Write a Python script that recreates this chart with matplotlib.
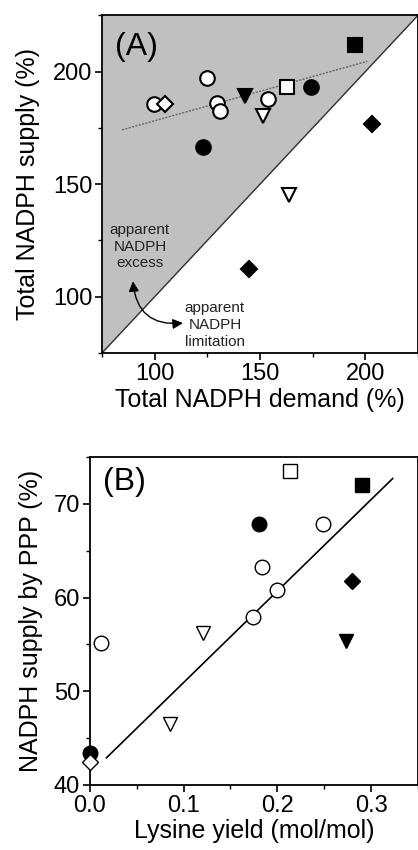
import matplotlib
matplotlib.use("Agg")
import matplotlib.pyplot as plt
from matplotlib.ticker import MultipleLocator, FormatStrFormatter

plt.rcParams['font.family'] = ['Liberation Sans', 'DejaVu Sans']

# ---------------- Panel A data ----------------
a_demand = [99.6, 104.9, 124.8, 129.5, 131.0, 122.9, 142.8, 151.3, 153.7, 162.7, 174.0, 195.0, 203.0, 164.0, 145.0]
a_supply = [185.6, 185.6, 197.0, 186.0, 182.5, 166.6, 189.0, 180.3, 187.8, 193.0, 193.0, 212.0, 176.8, 145.0, 112.2]
a_marker = ['o', 'D', 'o', 'o', 'o', 'o', 'v', 'v', 'o', 's', 'o', 's', 'D', 'v', 'D']
a_filled = [False, False, False, False, False, True, True, False, False, False, True, True, True, False, True]
a_trend_x = [84.5, 201.0]
a_trend_y = [174.1, 204.6]

# ---------------- Panel B data ----------------
b_yield = [0.213, 0.290, 0.180, 0.249, 0.184, 0.280, 0.200, 0.174, 0.121, 0.0124, 0.273, 0.085, 0.0, 0.0]
b_ppp = [73.5, 72.0, 67.8, 67.9, 63.3, 61.8, 60.8, 57.9, 56.2, 55.2, 55.4, 46.5, 43.4, 42.4]
b_marker = ['s', 's', 'o', 'o', 'o', 'D', 'o', 'o', 'v', 'o', 'v', 'v', 'o', 'D']
b_filled = [False, True, True, False, False, True, False, False, False, False, True, False, True, False]
b_fit_x = [0.0177, 0.323]
b_fit_y = [42.9, 72.7]

fig = plt.figure(figsize=(4.18, 8.5), dpi=100)
axA = fig.add_axes([0.244, 0.5847, 0.756, 0.3973])
axB = fig.add_axes([0.215, 0.0765, 0.785, 0.3859])

def msize(m):
    return {'o': 10.5, 'D': 8.5, 's': 9.5, 'v': 10}[m]

def style(ax):
    for s in ax.spines.values():
        s.set_linewidth(1.3)
    ax.tick_params(which='major', direction='out', length=5, width=1.2, labelsize=17, pad=2)
    ax.tick_params(which='minor', direction='out', length=3, width=1.0)

# Panel A
lo, hi = 75, 225
axA.fill_between([lo, hi], [lo, hi], [hi, hi], color='#c0c0c0', zorder=0, linewidth=0)
axA.plot([lo, hi], [lo, hi], color='#333333', lw=1.0, zorder=1)
axA.plot(a_trend_x, a_trend_y, color='#666666', lw=1.0, ls=(0, (1.5, 1.0)), zorder=2)
for x, y, m, f in zip(a_demand, a_supply, a_marker, a_filled):
    axA.plot(x, y, marker=m, ms=msize(m), mfc='black' if f else 'white',
             mec='black', mew=1.5, ls='none', zorder=3)
axA.set_xlim(lo, hi)
axA.set_ylim(lo, hi)
axA.xaxis.set_major_locator(MultipleLocator(50))
axA.yaxis.set_major_locator(MultipleLocator(50))
axA.xaxis.set_minor_locator(MultipleLocator(25))
axA.yaxis.set_minor_locator(MultipleLocator(25))
style(axA)
axA.set_xlabel('Total NADPH demand (%)', fontsize=18, labelpad=2)
axA.set_ylabel('Total NADPH supply (%)', fontsize=18, labelpad=9)
axA.text(0.04, 0.95, '(A)', transform=axA.transAxes, fontsize=23, va='top', ha='left')
axA.text(93, 122.3, 'apparent\nNADPH\nexcess', ha='center', va='center', fontsize=11,
         color='#222222', linespacing=1.25)
axA.text(128.6, 87.4, 'apparent\nNADPH\nlimitation', ha='center', va='center', fontsize=11,
         color='#222222', linespacing=1.25)
axA.annotate('', xy=(89.7, 106.9), xytext=(113.4, 88.3),
             arrowprops=dict(arrowstyle='<|-|>', color='black', lw=1.0,
                             connectionstyle='arc3,rad=-0.5', mutation_scale=15,
                             shrinkA=0, shrinkB=0))

# Panel B
axB.plot(b_fit_x, b_fit_y, color='black', lw=1.2, zorder=2)
for x, y, m, f in zip(b_yield, b_ppp, b_marker, b_filled):
    axB.plot(x, y, marker=m, ms=msize(m), mfc='black' if f else 'white',
             mec='black', mew=1.0, ls='none', zorder=3, clip_on=False)
axB.set_xlim(0, 0.35)
axB.set_ylim(40, 75)
axB.xaxis.set_major_locator(MultipleLocator(0.1))
axB.xaxis.set_minor_locator(MultipleLocator(0.05))
axB.yaxis.set_major_locator(MultipleLocator(10))
axB.yaxis.set_minor_locator(MultipleLocator(5))
axB.xaxis.set_major_formatter(FormatStrFormatter('%.1f'))
style(axB)
axB.set_xlabel('Lysine yield (mol/mol)', fontsize=18, labelpad=2)
axB.set_ylabel('NADPH supply by PPP (%)', fontsize=18, labelpad=8)
axB.text(0.04, 0.97, '(B)', transform=axB.transAxes, fontsize=23, va='top', ha='left')

fig.savefig('out.png', dpi=100)
